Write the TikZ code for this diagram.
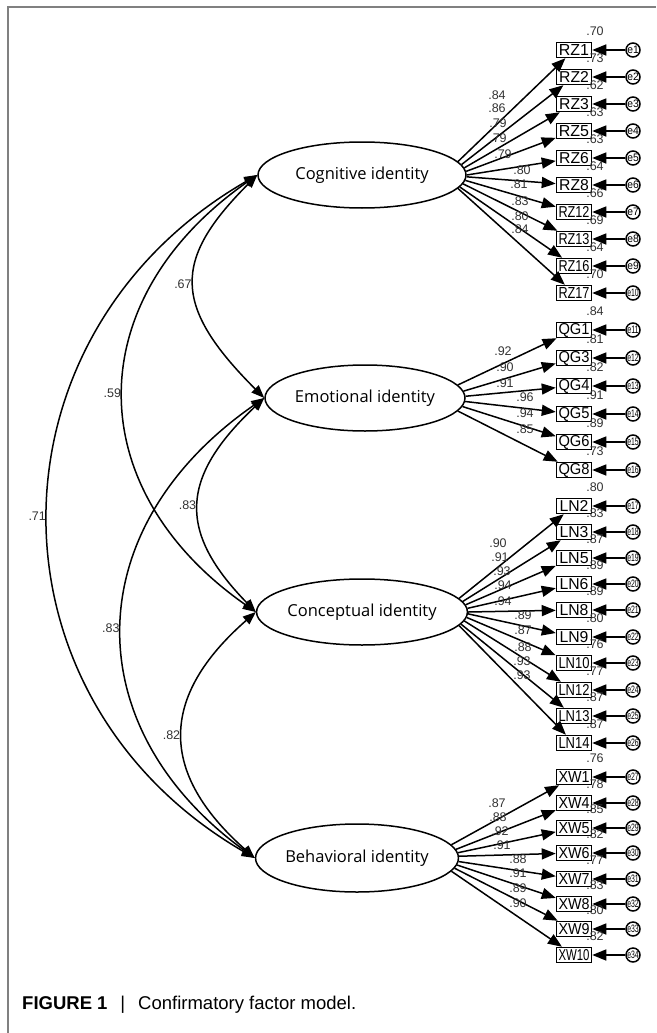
\documentclass[tikz,border=0pt]{standalone}
\usepackage{graphicx}
\usepackage{fontspec}
\setmainfont{Liberation Sans}
\newfontfamily\latentfont{Open Sans}
\usepackage{tikz}
\usetikzlibrary{arrows.meta,calc,shapes.geometric}

\newsavebox\fitbox
\newcommand\fitin[3]{%
  \sbox\fitbox{\resizebox{!}{#2}{#3}}%
  \ifdim\wd\fitbox>#1\relax\resizebox{#1}{#2}{#3}\else\usebox\fitbox\fi}

\tikzset{
  latent/.style={ellipse, draw, line width=1.5pt, minimum width=208pt, minimum height=66pt, inner sep=0pt, font=\latentfont\fontsize{16.5}{16.5}\selectfont},
  obs/.style={rectangle, draw, line width=1.5pt, minimum width=35pt, minimum height=15pt, inner sep=0pt},
  err/.style={circle, draw, line width=1.5pt, minimum size=14pt, inner sep=0pt},
  coef/.style={font=\fontsize{12.5}{12.5}\selectfont, text=black!80, inner sep=0pt},
  loadarrow/.style={line width=1.5pt, -{Triangle[length=14pt,width=11pt]}},
  errarrow/.style={line width=1.5pt, -{Triangle[length=14pt,width=11pt]}},
  cov/.style={line width=1.5pt, {Triangle[length=13pt,width=10pt]}-{Triangle[length=13pt,width=10pt]}}
}

\begin{document}
\begin{tikzpicture}[x=1pt,y=-1pt]
\useasboundingbox (0,0) rectangle (656,1033);
\draw[black!50, line width=1.2pt] (8,1033) -- (8,7) -- (656,7);

% latent factors
\node[latent] (cog) at (362,175) {Cognitive identity};
\node[latent, minimum width=200pt] (emo) at (365,398) {Emotional identity};
\node[latent] (con) at (362,612) {Conceptual identity};
\node[latent, minimum width=200pt, minimum height=68pt] (beh) at (357,858) {Behavioral identity};

% indicators
\foreach \nm/\yy/\ld/\lx/\ly/\rr/\en [count=\i] in {
  RZ1/50/.84/497/95/.70/1, RZ2/77/.86/497/108/.73/2, RZ3/104/.79/498/123/.62/3,
  RZ5/131/.79/498/138/.63/4, RZ6/158/.79/503/154/.63/5, RZ8/185/.80/522/170/.64/6,
  RZ12/212/.81/519/184/.66/7, RZ13/239/.83/520/201/.69/8, RZ16/266/.80/520/216/.64/9,
  RZ17/293/.84/520/229/.70/10}{
  \pgfmathtruncatemacro\ang{mod(368-16*(\i-1)/9,360)}
  \node[obs] (\nm) at (574,\yy) {\fitin{31pt}{11pt}{\nm}};
  \node[err] (e\en) at (633,\yy) {\fitin{11.5pt}{7.5pt}{e\en}};
  \draw[errarrow] (e\en) -- (\nm);
  \draw[loadarrow] (cog.\ang) -- (\nm);
  \node[coef] at (\lx,\ly) {\ld};
  \node[coef] at ($(\nm)+(21,-19)$) {\rr};
}
\foreach \nm/\yy/\ld/\lx/\ly/\rr/\en [count=\i] in {
  QG1/330/.92/503/351/.84/11, QG3/358/.90/505/367/.81/12, QG4/386/.91/505/383/.82/13,
  QG5/414/.96/525/397/.91/14, QG6/442/.94/525/413/.89/15, QG8/470/.85/525/429/.73/16}{
  \pgfmathtruncatemacro\ang{mod(368-16*(\i-1)/5,360)}
  \node[obs] (\nm) at (574,\yy) {\fitin{31pt}{11pt}{\nm}};
  \node[err] (e\en) at (633,\yy) {\fitin{11.5pt}{7.5pt}{e\en}};
  \draw[errarrow] (e\en) -- (\nm);
  \draw[loadarrow] (emo.\ang) -- (\nm);
  \node[coef] at (\lx,\ly) {\ld};
  \node[coef] at ($(\nm)+(21,-19)$) {\rr};
}
\foreach \nm/\yy/\ld/\lx/\ly/\rr/\en [count=\i] in {
  LN2/506/.90/498/543/.80/17, LN3/532/.91/500/557/.83/18, LN5/558/.93/502/571/.87/19,
  LN6/584/.94/503/585/.89/20, LN8/610/.94/503/601/.89/21, LN9/637/.89/523/615/.80/22,
  LN10/663/.87/523/630/.76/23, LN12/690/.88/523/647/.77/24, LN13/716/.93/522/661/.87/25,
  LN14/743/.93/522/675/.87/26}{
  \pgfmathtruncatemacro\ang{mod(368-16*(\i-1)/9,360)}
  \node[obs] (\nm) at (574,\yy) {\fitin{31pt}{11pt}{\nm}};
  \node[err] (e\en) at (633,\yy) {\fitin{11.5pt}{7.5pt}{e\en}};
  \draw[errarrow] (e\en) -- (\nm);
  \draw[loadarrow] (con.\ang) -- (\nm);
  \node[coef] at (\lx,\ly) {\ld};
  \node[coef] at ($(\nm)+(21,-19)$) {\rr};
}
\foreach \nm/\yy/\ld/\lx/\ly/\rr/\en [count=\i] in {
  XW1/777/.87/497/803/.76/27, XW4/803/.88/498/817/.78/28, XW5/828/.92/500/831/.85/29,
  XW6/853/.91/502/845/.82/30, XW7/879/.88/518/859/.77/31, XW8/904/.91/518/873/.83/32,
  XW9/929/.89/518/888/.80/33, XW10/955/.90/518/903/.82/34}{
  \pgfmathtruncatemacro\ang{mod(368-16*(\i-1)/7,360)}
  \node[obs] (\nm) at (574,\yy) {\fitin{31pt}{11pt}{\nm}};
  \node[err] (e\en) at (633,\yy) {\fitin{11.5pt}{7.5pt}{e\en}};
  \draw[errarrow] (e\en) -- (\nm);
  \draw[loadarrow] (beh.\ang) -- (\nm);
  \node[coef] at (\lx,\ly) {\ld};
  \node[coef] at ($(\nm)+(21,-19)$) {\rr};
}

% covariances
\draw[cov] (cog.west) .. controls +(-85,85) and +(-92,-92) .. node[coef,left=2pt] {.67} (emo.west);
\draw[cov] (cog.west) .. controls +(-177,124) and +(-177,-124) .. node[coef,left=2pt] {.59} (con.west);
\draw[cov] (cog.west) .. controls +(-277,160) and +(-276,-160) .. node[coef,left=2pt] {.71} (beh.west);
\draw[cov] (emo.west) .. controls +(-85,80) and +(-78,-80) .. node[coef,left=2pt] {.83} (con.west);
\draw[cov] (emo.west) .. controls +(-187,130) and +(-179,-130) .. node[coef,left=2pt] {.83} (beh.west);
\draw[cov] (con.west) .. controls +(-97,85) and +(-96,-85) .. node[coef,left=2pt] {.82} (beh.west);

\node[anchor=base west, inner sep=0pt, font=\fontsize{18.5}{22}\selectfont] (caption) at (22,1009)
  {\textbf{FIGURE 1}\hspace{0.7em}|\hspace{0.7em}Confirmatory factor model.};
\end{tikzpicture}
\end{document}
